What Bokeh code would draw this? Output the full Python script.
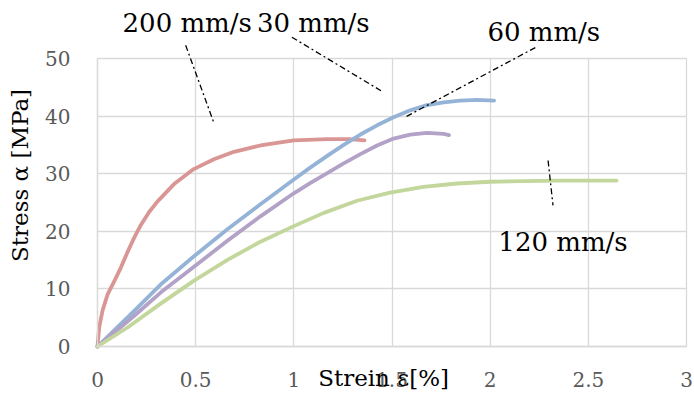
import math
from bokeh.plotting import figure
from bokeh.models import Range1d, FixedTicker, Label, Arrow
from bokeh.core.properties import value
from bokeh.embed import file_html
from bokeh.resources import INLINE

# ---- data ----
red_x = [0, 0.0085, 0.0255, 0.051, 0.085, 0.119, 0.153, 0.187, 0.221, 0.264, 0.306, 0.39, 0.49, 0.593, 0.695, 0.83, 1.0, 1.17, 1.28, 1.36]
red_y = [0, 3.3, 6.2, 9.0, 11.3, 13.7, 16.4, 18.9, 21.1, 23.4, 25.2, 28.2, 30.8, 32.5, 33.8, 34.9, 35.8, 36.0, 36.0, 35.8]

blue_x = [0, 0.187, 0.323, 0.493, 0.66, 0.83, 1.0, 1.085, 1.17, 1.254, 1.339, 1.424, 1.508, 1.593, 1.678, 1.763, 1.847, 1.932, 2.02]
blue_y = [0, 6.2, 10.8, 15.7, 20.3, 24.7, 29.0, 31.1, 33.1, 35.0, 36.8, 38.4, 39.8, 41.0, 41.9, 42.4, 42.7, 42.8, 42.7]

purple_x = [0, 0.186, 0.323, 0.493, 0.66, 0.83, 1.0, 1.085, 1.17, 1.254, 1.339, 1.424, 1.508, 1.593, 1.678, 1.763, 1.79]
purple_y = [0, 5.3, 9.4, 13.9, 18.3, 22.6, 26.6, 28.4, 30.1, 31.8, 33.4, 34.9, 36.1, 36.8, 37.1, 36.9, 36.7]

green_x = [0, 0.153, 0.32, 0.49, 0.66, 0.83, 1.0, 1.153, 1.322, 1.49, 1.66, 1.83, 2.0, 2.17, 2.34, 2.644]
green_y = [0, 3.3, 7.4, 11.4, 15.0, 18.2, 20.9, 23.2, 25.3, 26.7, 27.7, 28.3, 28.6, 28.7, 28.8, 28.8]

x_ticks = [0, 0.5, 1, 1.5, 2, 2.5, 3]
x_tick_labels = ["0", "0.5", "1", "1.5", "2", "2.5", "3"]
y_ticks = [0, 10, 20, 30, 40, 50]

x_title = "Strein ε[%]"
y_title = "Stress α [MPa]"
series_names = ["200 mm/s", "30 mm/s", "60 mm/s", "120 mm/s"]
# callout label positions (data units, centre / baseline) and leader lines
label_pos = [(0.457, 56.2), (1.099, 56.2), (2.273, 54.6), (2.371, 18.1)]
leaders = [((0.449, 52.3), (0.592, 38.9)),
           ((0.990, 53.7), (1.444, 44.4)),
           ((2.230, 51.9), (1.566, 39.8)),
           ((2.295, 32.3), (2.320, 24.5))]

SERIF = "DejaVu Serif"
GRID = "#d9d9d9"

# layout: plot area spans x 0..3 over 589 px starting 97 px from the left,
# y 0..50 over 288 px with its bottom 346 px from the top of the 694x394 canvas
W, H = 694, 394
LEFT, BOTTOM = 97, 346
PX_X = 589 / 3
PX_Y = 288 / 50
x_range = Range1d(-LEFT / PX_X, (W - LEFT) / PX_X)
y_range = Range1d(-(H - BOTTOM) / PX_Y, BOTTOM / PX_Y)

p = figure(width=W, height=H, output_backend="svg", toolbar_location=None,
           x_range=x_range, y_range=y_range, min_border=0)
p.background_fill_color = "white"
p.border_fill_color = "white"
p.outline_line_color = None

xax, yax = p.xaxis[0], p.yaxis[0]
xax.fixed_location = 0
yax.fixed_location = 0
xax.bounds = (x_ticks[0], x_ticks[-1])
yax.bounds = (y_ticks[0], y_ticks[-1])
for ax in (xax, yax):
    ax.major_tick_line_color = None
    ax.minor_tick_line_color = None
    ax.axis_line_color = GRID
    ax.axis_line_width = 1.3
    ax.major_label_text_font = SERIF
    ax.major_label_text_font_size = "20px"
    ax.major_label_text_color = "#595959"

xax.ticker = FixedTicker(ticks=x_ticks)
xax.major_label_overrides = {t: l for t, l in zip(x_ticks, x_tick_labels)}
xax.major_label_standoff = 19
yax.ticker = FixedTicker(ticks=y_ticks)
yax.major_label_standoff = 21

grid_ok = True
try:
    p.xgrid.bounds = (x_ticks[0], x_ticks[-1])
    p.ygrid.bounds = (y_ticks[0], y_ticks[-1])
    p.xgrid.cross_bounds = (y_ticks[0], y_ticks[-1])
    p.ygrid.cross_bounds = (x_ticks[0], x_ticks[-1])
except Exception:
    grid_ok = False

if grid_ok:
    p.xgrid.ticker = FixedTicker(ticks=x_ticks)
    p.ygrid.ticker = FixedTicker(ticks=y_ticks)
    p.xgrid.grid_line_color = GRID
    p.ygrid.grid_line_color = GRID
    p.xgrid.grid_line_width = 1.3
    p.ygrid.grid_line_width = 1.3
else:
    p.xgrid.visible = False
    p.ygrid.visible = False
    p.segment(x0=x_ticks, y0=[y_ticks[0]] * len(x_ticks), x1=x_ticks, y1=[y_ticks[-1]] * len(x_ticks),
              line_color=GRID, line_width=1.3)
    p.segment(x0=[x_ticks[0]] * len(y_ticks), y0=y_ticks, x1=[x_ticks[-1]] * len(y_ticks), y1=y_ticks,
              line_color=GRID, line_width=1.3)

colors = ["#d99694", "#95b3d7", "#b3a2c7", "#c3d69b"]
for xs, ys, c in zip([red_x, blue_x, purple_x, green_x], [red_y, blue_y, purple_y, green_y], colors):
    p.line(xs, ys, line_color=c, line_width=3.8, line_cap="round", line_join="round")

# axis titles placed as in the reference (x title overlaps tick labels)
p.add_layout(Label(x=1.457, y=-5.4, text=x_title, text_font=SERIF, text_font_size="23px",
                   text_color="black", text_align="center", text_baseline="alphabetic"))
p.add_layout(Label(x=-0.393, y=29.7, text=y_title, angle=math.pi / 2, text_font=SERIF,
                   text_font_size="23px", text_color="black", text_align="center",
                   text_baseline="middle"))

for name, (lx, ly) in zip(series_names, label_pos):
    p.add_layout(Label(x=lx, y=ly, text=name, text_font=SERIF, text_font_size="26px",
                       text_color="black", text_align="center", text_baseline="alphabetic"))

for (a, b) in leaders:
    p.add_layout(Arrow(end=None, x_start=a[0], y_start=a[1], x_end=b[0], y_end=b[1],
                       line_color="black", line_width=1.3, line_dash=value("6 3 2 3")))

open("out.html", "w").write(file_html(p, INLINE))
